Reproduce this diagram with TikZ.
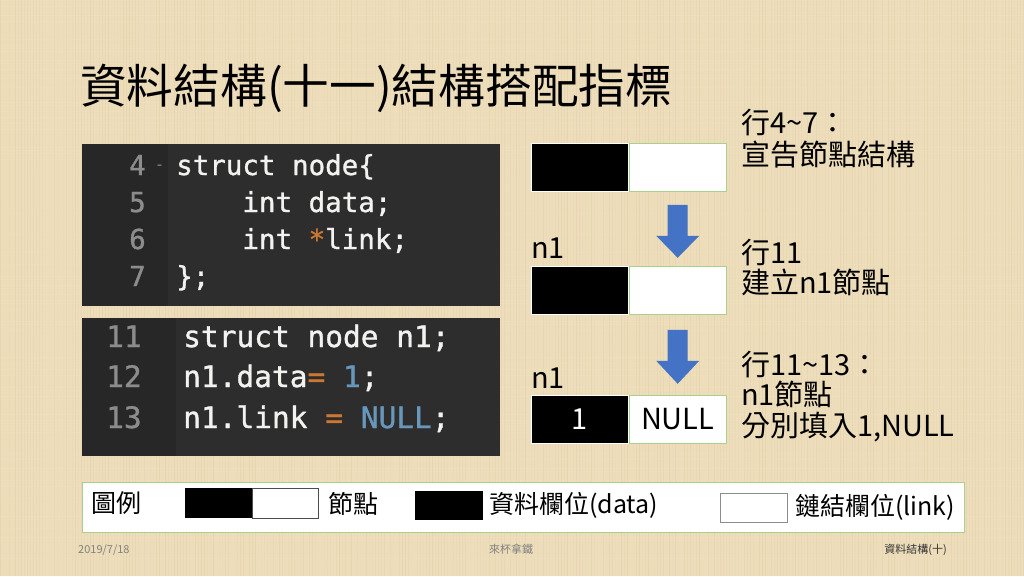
\documentclass[tikz,border=0pt]{standalone}
\usepackage{fontspec}
\setmainfont{Noto Sans CJK TC}
\newfontfamily\codefont{DejaVu Sans Mono}[UprightFeatures={FakeBold=1.1}]
\usetikzlibrary{calc}

\tikzset{
  datacell/.style={fill=black, draw=white, line width=0.8pt, minimum width=97pt, minimum height=48pt, inner sep=0pt},
  linkcell/.style={fill=white, draw=linkgreen, line width=0.8pt, minimum width=97pt, minimum height=48pt, inner sep=0pt},
  codeline/.style={anchor=base west, inner sep=0pt, text=codefg},
  linenum/.style={anchor=base west, inner sep=0pt, text=codegray},
  note/.style={anchor=base west, inner sep=0pt, font=\fontsize{29}{31}\selectfont},
  legendtext/.style={anchor=base west, inner sep=0pt, font=\fontsize{25}{28}\selectfont},
  footer/.style={anchor=base, inner sep=0pt, font=\fontsize{11}{12}\selectfont},
}

\begin{document}
\begin{tikzpicture}[x=1pt, y=-1pt]

        % Define colors
        \definecolor{paper}{RGB}{237,221,186}
        \definecolor{paperlight}{RGB}{246,236,208}
        \definecolor{paperdark}{RGB}{190,160,110}
        \definecolor{codebg}{RGB}{45,45,45}
        \definecolor{gutterbg}{RGB}{39,39,39}
        \definecolor{codefg}{RGB}{242,242,240}
        \definecolor{codegray}{RGB}{140,140,140}
        \definecolor{codeorange}{RGB}{204,120,50}
        \definecolor{codeblue}{RGB}{104,151,187}
        \definecolor{linkgreen}{RGB}{169,209,142}
        \definecolor{arrowblue}{RGB}{68,114,196}
        \definecolor{footgray}{RGB}{130,130,130}

        % Background of the slide (woven paper)
        \fill[paper] (0,0) rectangle (1024,576);
        \useasboundingbox (0,0) rectangle (1024,576);
        \pgfmathsetseed{7}
        \foreach \i in {0,3,...,1024}{
          \pgfmathsetmacro\op{0.14*rnd}
          \draw[paperdark, opacity=\op, line width=0.8pt] (\i,0) -- (\i,576);
        }
        \foreach \j in {0,3,...,576}{
          \pgfmathsetmacro\op{0.16*rnd}
          \draw[paperlight, opacity=\op, line width=0.8pt] (0,\j) -- (1024,\j);
        }

        % Title
        \node[anchor=base west, inner sep=0pt, font=\fontsize{46.7}{56}\selectfont] (title) at (80,103) {資料結構(十一)結構搭配指標};

        % Code panel 1 (lines 4-7)
        \node[fill=codebg, minimum width=418pt, minimum height=162pt, inner sep=0pt, anchor=north west] (code1) at (82,144) {};
        \fill[gutterbg] (code1.north west) rectangle (168,306);
        \begin{scope}[font=\codefont\fontsize{27.5}{30}\selectfont]
          \node[linenum] (n4) at (129,175) {4};
          \node[linenum, font=\codefont\fontsize{14}{14}\selectfont] (fold) at (155,169) {-};
          \node[linenum] (n5) at (129,212) {5};
          \node[linenum] (n6) at (129,249) {6};
          \node[linenum] (n7) at (129,286) {7};
          \node[codeline] (c4) at (176,175) {struct node\{};
          \node[codeline] (c5) at (176,212) {\ \ \ \ int data;};
          \node[codeline] (c6) at (176,249) {\ \ \ \ int {\color{codeorange}*}link;};
          \node[codeline] (c7) at (176,286) {\};};
        \end{scope}

        % Code panel 2 (lines 11-13)
        \node[fill=codebg, minimum width=418pt, minimum height=138pt, inner sep=0pt, anchor=north west] (code2) at (82,318) {};
        \fill[gutterbg] (code2.north west) rectangle (176,456);
        \begin{scope}[font=\codefont\fontsize{29.5}{32}\selectfont]
          \node[linenum] (n11) at (106,347) {11};
          \node[linenum] (n12) at (106,387) {12};
          \node[linenum] (n13) at (106,428) {13};
          \node[codeline] (c11) at (183,347) {struct node n1;};
          \node[codeline] (c12) at (183,387) {n1.data{\color{codeorange}=} {\color{codeblue}1};};
          \node[codeline] (c13) at (183,428) {n1.link {\color{codeorange}=} {\color{codeblue}NULL};};
        \end{scope}

        % Node after lines 4-7
        \node[datacell, anchor=north west] (d1) at (531,143) {};
        \node[linkcell, anchor=west] (l1) at (d1.east) {};
        \node[note] (t1a) at (741,133) {行4\textasciitilde7：};
        \node[note] (t1b) at (741,165) {宣告節點結構};

        % Arrow down
        \fill[arrowblue] ($(l1.south)+(-10,13)$) -- ++(20,0) -- ++(0,31) -- ++(11.5,0)
          -- ++(-21.5,22) -- ++(-21.5,-22) -- ++(11.5,0) -- cycle;

        % Node n1 after line 11
        \node[note, anchor=base west] (lab2) at (531,258) {n1};
        \node[datacell, anchor=north west] (d2) at (531,266) {};
        \node[linkcell, anchor=west] (l2) at (d2.east) {};
        \node[note] (t2a) at (741,263) {行11};
        \node[note] (t2b) at (741,293) {建立n1節點};

        % Arrow down
        \fill[arrowblue] ($(l2.south)+(-10,15)$) -- ++(20,0) -- ++(0,31) -- ++(11.5,0)
          -- ++(-21.5,23) -- ++(-21.5,-23) -- ++(11.5,0) -- cycle;

        % Node n1 after lines 11-13
        \node[note] (lab3) at (531,388) {n1};
        \node[datacell, anchor=north west, text=white, font=\fontsize{29}{31}\selectfont] (d3) at (531,395) {1};
        \node[linkcell, anchor=west, font=\fontsize{29}{31}\selectfont] (l3) at (d3.east) {NULL};
        \node[note] (t3a) at (741,375) {行11\textasciitilde13：};
        \node[note] (t3b) at (741,405) {n1節點};
        \node[note] (t3c) at (741,436) {分別填入1,NULL};

        % Legend
        \node[fill=white, draw=linkgreen, line width=1pt, minimum width=882pt, minimum height=50pt, inner sep=0pt, anchor=north west] (legend) at (82,482) {};
        \node[legendtext] (leg) at (91,512) {圖例};
        \node[fill=black, minimum width=67pt, minimum height=30pt, inner sep=0pt, anchor=north west] (legd) at (185,488) {};
        \node[fill=white, draw=black!70, line width=0.8pt, minimum width=66pt, minimum height=30pt, inner sep=0pt, anchor=west] (legl) at (legd.east) {};
        \node[legendtext] (legnode) at (328,513) {節點};
        \node[fill=black, minimum width=68pt, minimum height=29pt, inner sep=0pt, anchor=north west] (legdata) at (415,491) {};
        \node[legendtext] (legdatat) at (489,513) {資料欄位(data)};
        \node[fill=white, draw=black!45, line width=0.8pt, minimum width=67pt, minimum height=29pt, inner sep=0pt, anchor=north west] (leglink) at (720,493) {};
        \node[legendtext] (leglinkt) at (795,515) {鏈結欄位(link)};

        % Footer
        \node[footer, anchor=base west, text=footgray] (date) at (78,553) {2019/7/18};
        \node[footer, text=footgray] (author) at (511,553) {來杯拿鐵};
        \node[footer, anchor=base east, text=black!80] (chap) at (947,553) {資料結構(十)};

\end{tikzpicture}
\end{document}
